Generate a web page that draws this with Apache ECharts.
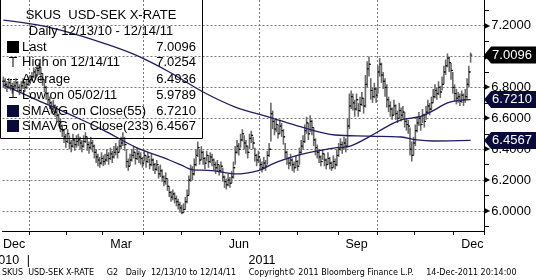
<!DOCTYPE html>
<html><head><meta charset="utf-8">
<script src="https://cdn.jsdelivr.net/npm/echarts@6/dist/echarts.min.js"></script>
<style>html,body{margin:0;padding:0;background:#fff}#c{width:536px;height:280px}</style>
</head><body><div id="c"></div>
<script>
// ---- Data (USD-SEK daily, 12/13/10 - 12/14/11) ----
const closes = [
6.84,6.82,6.80,6.83,6.81,6.79,6.81,6.83,6.80,6.78,6.81,6.83,6.80,6.82,6.84,
6.85,6.87,6.90,6.88,6.91,6.93,6.89,6.85,
6.80,6.76,6.72,
6.70,6.66,6.68,6.64,6.62,
6.58,6.55,6.52,
6.48,6.45,6.50,6.44,6.42,6.46,6.43,6.45,
6.46,6.44,6.42,6.45,6.48,6.43,6.41,6.44,6.42,
6.38,6.35,6.33,6.31,6.34,6.32,
6.33,6.36,6.34,6.37,6.35,6.38,
6.40,6.38,6.42,6.44,
6.47,6.43,
6.32,6.29,6.33,
6.36,6.38,6.34,6.37,6.35,
6.34,6.31,6.36,6.32,6.35,6.30,6.33,6.30,
6.27,6.30,6.24,6.26,
6.22,6.19,6.21,6.16,
6.12,6.09,6.11,6.08,6.06,
6.04,6.02,5.99,6.01,
6.06,6.10,
6.20,6.27,6.24,
6.30,6.36,6.41,6.33,6.38,
6.34,6.31,6.36,6.32,6.35,6.33,6.30,
6.28,6.30,6.26,6.29,
6.22,6.19,6.17,6.20,6.18,6.22,
6.28,
6.38,6.42,6.40,
6.46,6.50,6.44,
6.42,6.38,
6.47,6.49,6.44,
6.36,6.33,6.35,
6.30,6.28,6.31,6.29,
6.36,6.40,
6.63,6.58,
6.53,6.56,6.50,6.55,6.52,6.48,
6.38,6.34,6.31,6.33,
6.30,6.28,6.32,6.29,
6.38,6.42,6.45,
6.52,6.57,6.50,6.58,6.54,
6.46,6.41,6.38,
6.35,6.32,6.37,6.33,6.30,6.34,6.31,6.28,6.32,6.30,
6.36,6.40,6.43,6.41,6.44,6.42,
6.55,6.68,
6.74,6.70,6.66,6.72,6.65,6.69,6.73,6.68,
6.82,6.92,6.95,
6.78,6.74,6.79,6.75,
6.90,6.95,6.88,6.84,
6.80,6.72,6.68,
6.66,6.62,6.68,6.63,6.60,6.65,6.62,6.64,
6.58,6.56,6.55,
6.40,6.36,
6.44,6.52,
6.57,6.60,6.56,6.62,6.58,
6.64,6.68,6.66,6.70,
6.74,6.78,6.76,6.80,6.77,6.82,
6.90,6.94,6.99,6.96,6.91,
6.80,6.76,6.73,
6.74,6.71,6.75,6.72,6.74,
6.82,6.90,
7.0096];
const highs = [
6.87,6.86,6.84,6.86,6.85,6.83,6.84,6.86,6.84,6.82,6.84,6.86,6.84,6.85,6.87,
6.88,6.90,6.93,6.92,6.94,6.96,6.93,6.89,
6.85,6.81,6.77,
6.74,6.71,6.72,6.69,6.66,
6.63,6.60,6.56,
6.53,6.50,6.53,6.49,6.46,6.50,6.47,6.49,
6.50,6.48,6.46,6.49,6.51,6.48,6.45,6.48,6.46,
6.43,6.40,6.37,6.35,6.38,6.36,
6.37,6.40,6.38,6.41,6.39,6.42,
6.44,6.42,6.46,6.48,
6.51,6.48,
6.40,6.34,6.37,
6.40,6.42,6.38,6.41,6.39,
6.38,6.35,6.39,6.36,6.38,6.34,6.37,6.34,
6.31,6.33,6.29,6.30,
6.27,6.23,6.25,6.21,
6.16,6.13,6.14,6.12,6.10,
6.08,6.06,6.04,6.05,
6.09,6.14,
6.23,6.30,6.29,
6.34,6.40,6.45,6.40,6.42,
6.39,6.35,6.39,6.36,6.38,6.37,6.34,
6.32,6.33,6.30,6.32,
6.28,6.23,6.21,6.24,6.22,6.26,
6.32,
6.42,6.46,6.44,
6.50,6.53,6.49,
6.46,6.42,
6.50,6.52,6.48,
6.41,6.37,6.39,
6.34,6.32,6.35,6.33,
6.39,6.44,
6.70,6.65,
6.59,6.60,6.56,6.59,6.57,6.53,
6.44,6.39,6.35,6.37,
6.34,6.32,6.36,6.33,
6.41,6.46,6.49,
6.56,6.61,6.57,6.62,6.59,
6.54,6.47,6.43,
6.40,6.36,6.40,6.37,6.34,6.38,6.35,6.32,6.36,6.34,
6.40,6.44,6.47,6.45,6.48,6.47,
6.60,6.76,
6.78,6.76,6.72,6.76,6.70,6.74,6.77,6.73,
6.88,6.97,7.00,
6.86,6.80,6.83,6.80,
6.94,6.99,6.96,6.90,
6.86,6.82,6.74,
6.71,6.67,6.72,6.69,6.65,6.70,6.67,6.68,
6.64,6.60,6.59,
6.54,6.45,
6.48,6.56,
6.61,6.64,6.61,6.66,6.63,
6.68,6.72,6.70,6.74,
6.79,6.82,6.80,6.84,6.81,6.87,
6.94,6.98,7.02,7.00,6.96,
6.90,6.82,6.79,
6.77,6.76,6.78,6.76,6.79,
6.86,6.94,
7.0254];
const lows = [
6.80,6.79,6.77,6.79,6.78,6.76,6.78,6.79,6.77,6.75,6.77,6.79,6.77,6.79,6.81,
6.82,6.84,6.86,6.85,6.87,6.88,6.84,6.81,
6.77,6.72,6.69,
6.66,6.63,6.64,6.61,6.58,
6.55,6.51,6.48,
6.44,6.41,6.44,6.40,6.38,6.41,6.39,6.41,
6.42,6.40,6.38,6.41,6.44,6.39,6.37,6.40,6.38,
6.34,6.31,6.29,6.28,6.30,6.29,
6.30,6.32,6.30,6.33,6.31,6.34,
6.36,6.34,6.38,6.40,
6.42,6.39,
6.28,6.26,6.29,
6.32,6.34,6.30,6.33,6.31,
6.30,6.28,6.32,6.28,6.31,6.27,6.29,6.26,
6.24,6.26,6.21,6.22,
6.19,6.16,6.17,6.13,
6.09,6.06,6.07,6.05,6.03,
6.01,5.99,5.9789,5.985,
6.01,6.05,
6.10,6.19,6.20,
6.23,6.29,6.35,6.30,6.33,
6.30,6.27,6.32,6.28,6.31,6.29,6.26,
6.24,6.26,6.23,6.25,
6.19,6.15,6.14,6.16,6.15,6.18,
6.21,
6.30,6.37,6.36,
6.41,6.45,6.40,
6.37,6.34,
6.40,6.44,6.40,
6.32,6.29,6.31,
6.27,6.25,6.27,6.26,
6.30,6.35,
6.45,6.53,
6.49,6.51,6.47,6.50,6.48,6.43,
6.34,6.30,6.27,6.29,
6.26,6.25,6.28,6.26,
6.30,6.37,6.40,
6.44,6.50,6.46,6.51,6.49,
6.42,6.36,6.34,
6.31,6.29,6.33,6.29,6.27,6.30,6.27,6.26,6.28,6.27,
6.29,6.35,6.39,6.37,6.40,6.38,
6.41,6.53,
6.66,6.65,6.61,6.65,6.61,6.64,6.68,6.63,
6.67,6.80,6.87,
6.72,6.70,6.73,6.70,
6.76,6.87,6.83,6.79,
6.74,6.67,6.64,
6.61,6.59,6.62,6.59,6.57,6.60,6.58,6.60,
6.54,6.52,6.50,
6.36,6.32,
6.36,6.42,
6.51,6.55,6.52,6.57,6.54,
6.59,6.63,6.62,6.65,
6.70,6.73,6.72,6.75,6.73,6.78,
6.82,6.88,6.93,6.90,6.85,
6.76,6.71,6.69,
6.70,6.68,6.70,6.68,6.70,
6.72,6.80,
6.96];
// Moving averages (trading-day index, value)
const ma55Day = [0,19,38,56,74,93,102,106,117,130,143,152,162,170,187,194,205,214,223,234,241,249,256,262];
const ma55Val = [6.816,6.718,6.621,6.524,6.414,6.330,6.285,6.266,6.262,6.240,6.262,6.310,6.350,6.375,6.410,6.418,6.480,6.540,6.590,6.612,6.650,6.700,6.716,6.7210];
const ma233Day = [0,19,38,56,74,93,112,130,149,167,186,204,223,232,241,262];
const ma233Val = [7.236,7.204,7.152,7.087,7.010,6.900,6.770,6.673,6.608,6.544,6.492,6.485,6.479,6.460,6.453,6.4567];
// Legend stats
const statLast = 7.0096, statHigh = 7.0254, statAvg = 6.4936, statLow = 5.9789;
const statMa55 = 6.7210, statMa233 = 6.4567;
// Axis tick labels
const yTickValues = [6.0,6.2,6.4,6.6,6.8,7.0,7.2];
const yMinorValues = [5.9,6.1,6.3,6.5,6.7,6.9,7.1,7.3];
const monthLabelDays = ['2010-12-21','2011-03-15','2011-06-15','2011-09-15','2011-12-15'];
const monthLabelText = ['Dec','Mar','Jun','Sep','Dec'];
const yearLabelDays = ['2010-12-14','2010-12-31','2011-07-04'];
const yearLabelText = ['2010','|','2011'];

// ---- Category dates: weekdays from 12/13/10 (plus empty days after last bar) ----
const dates = [];
(function(){
  let d = new Date(Date.UTC(2010,11,13));
  while (dates.length < 270) {
    const wd = d.getUTCDay();
    if (wd !== 0 && wd !== 6) dates.push(d.toISOString().slice(0,10));
    d = new Date(d.getTime() + 86400000);
  }
})();
const monthStart = dates.map((s,i)=> i>0 && s.slice(5,7) !== dates[i-1].slice(5,7));
const quarterStart = dates.map((s,i)=> monthStart[i] && ['01','04','07','10'].includes(s.slice(5,7)));

const FONT = 'Liberation Sans';
const NAVY = '#1e1e62';
const chart = echarts.init(document.getElementById('c'), null, {renderer:'canvas'});
const yMax = 7.3657, yMin = 5.8706;

const barData = closes.map((c,i)=>[i, highs[i], lows[i], c, i>0 ? closes[i-1] : c]);

chart.setOption({
  animation:false,
  backgroundColor:'#fff',
  grid:{left:0, right:52, top:0, bottom:49, containLabel:false},
  xAxis:[{
    type:'category', data:dates, boundaryGap:true,
    axisLine:{show:true, lineStyle:{color:'#000', width:1}},
    axisTick:{show:true, length:4, lineStyle:{color:'#000'}, interval:(i)=>monthStart[i]},
    splitLine:{show:true, interval:(i)=>quarterStart[i], lineStyle:{color:'#777', type:[2,2], width:1}},
    axisLabel:{show:true, margin:7, color:'#000', fontFamily:FONT, fontSize:12.5,
      interval:(i,v)=>monthLabelDays.includes(v),
      formatter:(v)=>monthLabelText[monthLabelDays.indexOf(v)] || ''}
  }],
  yAxis:[{
    type:'value', position:'right', min:yMin, max:yMax, scale:true,
    axisLine:{show:true, lineStyle:{color:'#000', width:1}},
    axisTick:{show:false, customValues:yTickValues},
    splitLine:{show:true, lineStyle:{color:'#777', type:[2,2], width:1}},
    axisLabel:{show:true, customValues:yTickValues, margin:0, color:'#000', fontFamily:FONT, fontSize:13,
      formatter:(v)=>'{t|\u25B6}' + Number(v).toFixed(4),
      rich:{t:{fontSize:8, color:'#000', fontFamily:'DejaVu Sans', padding:[0,1,0,0]}}}
  },{
    type:'value', position:'right', min:yMin, max:yMax, scale:true,
    axisLine:{show:false},
    axisTick:{show:true, customValues:yMinorValues, length:5, lineStyle:{color:'#000'}},
    splitLine:{show:false}, axisLabel:{show:false}
  }],
  series:[{
    type:'custom', xAxisIndex:0, yAxisIndex:0, clip:true,
    renderItem:function(params, api){
      const i = api.value(0);
      const x = api.coord([i, api.value(1)])[0];
      const yH = api.coord([i, api.value(1)])[1];
      const yL = api.coord([i, api.value(2)])[1];
      const yC = api.coord([i, api.value(3)])[1];
      const yO = api.coord([i, api.value(4)])[1];
      return {type:'group', children:[
        {type:'line', shape:{x1:x, y1:yH, x2:x, y2:yL}, style:{stroke:'#6a6a6a', lineWidth:1.6}},
        {type:'line', shape:{x1:x, y1:yC, x2:x+1.6, y2:yC}, style:{stroke:'#000', lineWidth:1}},
        {type:'line', shape:{x1:x-1.6, y1:yO, x2:x, y2:yO}, style:{stroke:'#000', lineWidth:1}}
      ]};
    },
    encode:{x:0, y:[1,2]},
    data:barData, z:2
  },{
    type:'line', name:'SMAVG(55)', data:ma55Day.map((d,k)=>[d, ma55Val[k]]),
    showSymbol:false, smooth:0.35, lineStyle:{color:NAVY, width:1.3}, z:3, silent:true
  },{
    type:'line', name:'SMAVG(233)', data:ma233Day.map((d,k)=>[d, ma233Val[k]]),
    showSymbol:false, smooth:0.35, lineStyle:{color:NAVY, width:1.3}, z:3, silent:true
  }]
});

// ---- legend box, tags, year labels, footer ----
const g = [];
const txt = (x,y,s,align,opt)=>Object.assign({type:'text', x:x, y:y, z:50,
  style:Object.assign({text:s, fill:'#000', font:'13px "'+FONT+'"', textAlign:align||'left', textVerticalAlign:'middle'}, opt||{})});
g.push({type:'rect', z:49, shape:{x:0.5, y:-1, width:202, height:139.5}, style:{fill:null, stroke:'#000', lineWidth:1}});
g.push(txt(101,15,'SKUS  USD-SEK X-RATE','center'));
g.push(txt(101,31,'Daily 12/13/10 - 12/14/11','center'));
const rows = [['Last',statLast,47],['High on 12/14/11',statHigh,62],['Average',statAvg,79],['Low on 05/02/11',statLow,95],['SMAVG on Close(55)',statMa55,111],['SMAVG on Close(233)',statMa233,126]];
rows.forEach(r=>{ g.push(txt(22,r[2],r[0],'left')); g.push(txt(196,r[2],r[1].toFixed(4),'right')); });
g.push({type:'rect', z:50, shape:{x:7,y:41,width:12,height:12}, style:{fill:'#000'}});
g.push({type:'polyline', z:50, shape:{points:[[9,57.5],[17,57.5]]}, style:{stroke:'#000', lineWidth:1}});
g.push({type:'polyline', z:50, shape:{points:[[13,57.5],[13,67]]}, style:{stroke:'#000', lineWidth:1}});
g.push({type:'polyline', z:50, shape:{points:[[7,79.5],[19,79.5]]}, style:{stroke:'#000', lineWidth:1, lineDash:[2,1]}});
g.push({type:'polyline', z:50, shape:{points:[[13,86],[13,97.5]]}, style:{stroke:'#000', lineWidth:1}});
g.push({type:'polyline', z:50, shape:{points:[[9,97.5],[17,97.5]]}, style:{stroke:'#000', lineWidth:1}});
g.push({type:'rect', z:50, shape:{x:7,y:105,width:12,height:12}, style:{fill:'#0a0a3a'}});
g.push({type:'rect', z:50, shape:{x:7,y:120,width:12,height:12}, style:{fill:'#0a0a3a'}});

// year labels (second row under the month labels), placed through the x scale
yearLabelDays.forEach((d,k)=>{
  const x = chart.convertToPixel({xAxisIndex:0}, d);
  g.push({type:'text', z:50, x:x, y:261, style:{text:yearLabelText[k], fill:'#000', font:'12.5px "'+FONT+'"', textAlign:'center', textVerticalAlign:'middle'}});
});

// value tags on the right axis
[[closes[closes.length-1],'#000'],[ma55Val[ma55Val.length-1],'#0a0a3a'],[ma233Val[ma233Val.length-1],'#0a0a3a']].forEach(t=>{
  const y = chart.convertToPixel({yAxisIndex:0}, t[0]);
  const x0 = chart.convertToPixel({xAxisIndex:0}, dates[dates.length-1]) + 2;
  g.push({type:'polygon', z:60, shape:{points:[[x0-1,y],[x0+6,y-8.5],[536,y-8.5],[536,y+8.5],[x0+6,y+8.5]]}, style:{fill:t[1]}});
  g.push({type:'text', z:61, x:x0+7, y:y, style:{text:t[0].toFixed(4), fill:'#fff', font:'13px "'+FONT+'"', textVerticalAlign:'middle'}});
});
// footer
const foot = 'SKUS  USD-SEK X-RATE     G2   Daily  12/13/10 to 12/14/11     Copyright\u00A9 2011 Bloomberg Finance L.P.     14-Dec-2011 20:14:00';
g.push({type:'text', z:50, x:2, y:273, style:{text:foot, fill:'#000', font:'8px "DejaVu Sans"', textVerticalAlign:'middle'}});
chart.setOption({graphic:g});
</script></body></html>
